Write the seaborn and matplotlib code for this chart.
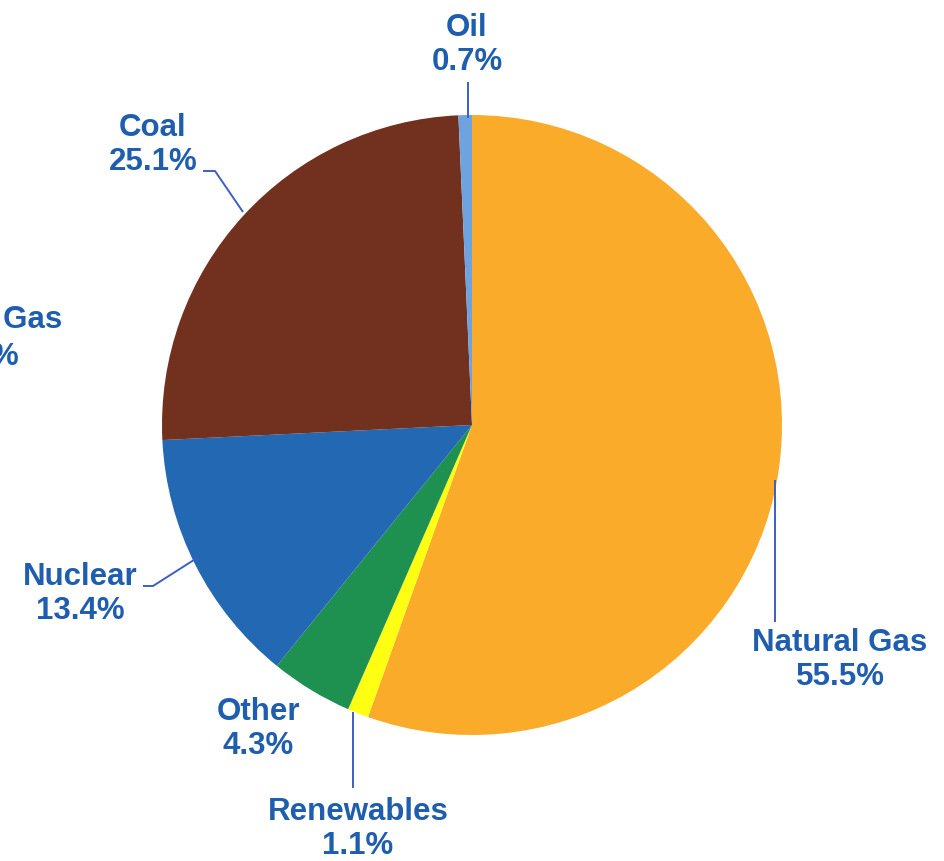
import matplotlib
matplotlib.use("Agg")
import matplotlib.pyplot as plt
import seaborn as sns

# data, clockwise from 12 o'clock
sources = ["Natural Gas", "Renewables", "Other", "Nuclear", "Coal", "Oil"]
shares = [55.5, 1.1, 4.3, 13.4, 25.1, 0.7]
colors = ["#FBAB2A", "#FFFF14", "#1E9150", "#2368B3", "#72301F", "#6FA3E0"]

# label layout in pixel coords (x, y from top)
label_pos = {
    "Natural Gas": (840, 660),
    "Renewables": (358, 829),
    "Other": (258, 729),
    "Nuclear": (80, 594),
    "Coal": (153, 145),
    "Oil": (467, 45),
}
leaders = {
    "Natural Gas": [(775, 622), (775, 480)],
    "Renewables": [(353, 788), (353, 712)],
    "Nuclear": [(143, 586), (153, 586), (197, 558)],
    "Coal": [(203, 171), (215, 171), (243, 212)],
    "Oil": [(468, 82), (468, 118)],
}

W, H = 944, 861
sns.set_theme(style="white")
plt.rcParams["font.family"] = ["Liberation Sans", "DejaVu Sans"]
txt_color = "#1F5EAE"
line_color = "#3C5FC4"

fig = plt.figure(figsize=(W / 100, H / 100), dpi=100)
ax = fig.add_axes([0, 0, 1, 1])
ax.axis("off")

ax.pie(shares, colors=colors, startangle=90, counterclock=False,
       center=(472, H - 425), radius=310,
       wedgeprops=dict(linewidth=0))
ax.set_xlim(0, W)
ax.set_ylim(0, H)
ax.set_aspect("equal")

for name, val in zip(sources, shares):
    x, y = label_pos[name]
    ax.text(x, H - y, f"{name}\n{val}%", ha="center", va="center",
            fontsize=22.5, fontweight="bold", color=txt_color,
            linespacing=1.15)
    if name in leaders:
        pts = leaders[name]
        ax.plot([p[0] for p in pts], [H - p[1] for p in pts],
                color=line_color, lw=1.4, solid_capstyle="butt")

# label of the neighbouring chart, cut by the frame
ax.text(62, H - 320, "Natural Gas", ha="right", va="center",
        fontsize=22.5, fontweight="bold", color=txt_color)
ax.text(18, H - 357, "%", ha="right", va="center",
        fontsize=22.5, fontweight="bold", color=txt_color)

fig.savefig("out.png", dpi=100)
